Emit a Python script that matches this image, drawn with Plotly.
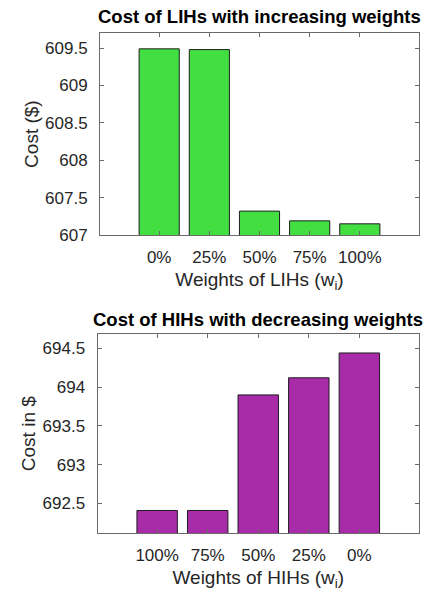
import plotly.graph_objects as go

# Cost of low-importance households (LIHs) as their weight increases
lih_weights = ["0%", "25%", "50%", "75%", "100%"]
lih_cost = [609.49, 609.48, 607.32, 607.19, 607.15]

# Cost of high-importance households (HIHs) as their weight decreases
hih_weights = ["100%", "75%", "50%", "25%", "0%"]
hih_cost = [692.41, 692.41, 693.90, 694.12, 694.44]

lih_yticks = [607, 607.5, 608, 608.5, 609, 609.5]
lih_yticktext = ["607", "607.5", "608", "608.5", "609", "609.5"]
hih_yticks = [692.5, 693, 693.5, 694, 694.5]
hih_yticktext = ["692.5", "693", "693.5", "694", "694.5"]

FONT = "Liberation Sans, Arial, sans-serif"
TEXT = "#262626"
AXIS = "#6a6a6a"

fig = go.Figure()
fig.add_trace(go.Bar(
    x=lih_weights, y=lih_cost, width=0.8,
    marker=dict(color="#42de42", line=dict(color="#1e1e1e", width=1)),
    xaxis="x", yaxis="y", showlegend=False,
))
fig.add_trace(go.Bar(
    x=hih_weights, y=hih_cost, width=0.8,
    marker=dict(color="#a82ca8", line=dict(color="#1e1e1e", width=1)),
    xaxis="x2", yaxis="y2", showlegend=False,
))

W, H = 447, 603

def xdom(l, r):
    return [l / W, r / W]

def ydom(top, bottom):
    return [1 - bottom / H, 1 - top / H]

common_x = dict(
    type="category", range=[-1.18, 5.18], showline=True, linecolor=AXIS,
    linewidth=1, mirror="ticks", ticks="inside", ticklen=4, tickcolor=AXIS,
    tickfont=dict(family=FONT, size=17, color=TEXT), showgrid=False,
    zeroline=False, ticklabelstandoff=7,
)
common_y = dict(
    showline=True, linecolor=AXIS, linewidth=1, mirror="ticks",
    ticks="inside", ticklen=4, tickcolor=AXIS,
    tickfont=dict(family=FONT, size=17, color=TEXT), showgrid=False,
    zeroline=False, ticklabelstandoff=8,
)

fig.update_layout(
    width=W, height=H, margin=dict(l=0, r=0, t=0, b=0),
    paper_bgcolor="white", plot_bgcolor="white", bargap=0.2,
    xaxis=dict(common_x, domain=xdom(100, 419), anchor="y",
               title=dict(text="Weights of LIHs (w<sub>i</sub>)", standoff=6,
                          font=dict(family=FONT, size=19, color=TEXT))),
    yaxis=dict(common_y, domain=ydom(33.7, 239), anchor="x",
               range=[607, 609.7], tickvals=lih_yticks, ticktext=lih_yticktext,
               title=dict(text="Cost ($)", standoff=1,
                          font=dict(family=FONT, size=19, color=TEXT))),
    xaxis2=dict(common_x, domain=xdom(97.5, 419), anchor="y2",
                title=dict(text="Weights of HIHs (w<sub>i</sub>)", standoff=6,
                           font=dict(family=FONT, size=19, color=TEXT))),
    yaxis2=dict(common_y, domain=ydom(340, 542), anchor="x2",
                range=[692.12, 694.68], tickvals=hih_yticks, ticktext=hih_yticktext,
                title=dict(text="Cost in $", standoff=1,
                           font=dict(family=FONT, size=19, color=TEXT))),
    annotations=[
        dict(text="<b>Cost of LIHs with increasing weights</b>", xref="paper",
             yref="paper", x=(100 + 419) / 2 / W, y=1 - 17 / H,
             showarrow=False, xanchor="center", yanchor="middle",
             font=dict(family=FONT, size=18.5, color="black")),
        dict(text="<b>Cost of HIHs with decreasing weights</b>", xref="paper",
             yref="paper", x=(97.5 + 419) / 2 / W, y=1 - 325 / H,
             showarrow=False, xanchor="center", yanchor="middle",
             font=dict(family=FONT, size=18.5, color="black")),
    ],
)

fig.write_html("out.html")
